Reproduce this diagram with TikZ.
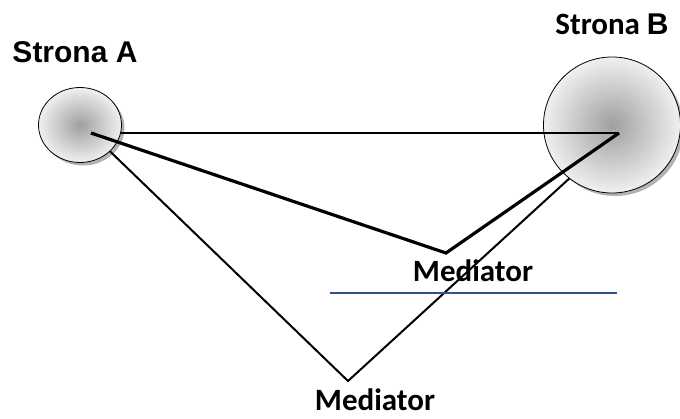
\documentclass[tikz,border=0pt]{standalone}
\usepackage{fontspec}
\setmainfont{Liberation Sans}
\newfontfamily\calib{Carlito}
\usetikzlibrary{shadows}
\tikzset{
  party/.style={ellipse, draw=black, line width=0.8pt, inner sep=0pt,
    shading=radial, inner color=gray!75, outer color=gray!12,
    drop shadow={shadow xshift=3pt, shadow yshift=-3pt, opacity=0.3, fill=black}},
  thinln/.style={line width=2pt, line join=miter},
  thickln/.style={line width=3.2pt, line join=miter},
  lbl/.style={inner sep=0pt, anchor=base, font=\calib\bfseries\fontsize{31}{31}\selectfont},
}
\usetikzlibrary{shapes.geometric}
\begin{document}
\begin{tikzpicture}[x=1pt,y=-1pt]
\useasboundingbox (0,0) rectangle (680,419);
\fill[white] (0,0) rectangle (680,419);
\coordinate (pa) at (91,133);
\coordinate (pb) at (619,133);
\coordinate (m1) at (446,253);
\coordinate (m2) at (348,381);
% thin lines via lower mediator (behind circles)
\draw[thinln] (pa) -- (m2) -- (pb);
% circle B
\node[party, minimum width=137pt, minimum height=136pt] (B) at (612,125) {};
% horizontal line (in front of B, behind A)
\draw[thinln] (pa) -- (pb);
% circle A
\node[party, minimum width=83pt, minimum height=75pt] (A) at (80,125) {};
% thick lines via upper mediator
\draw[thickln] (pa) -- (m1) -- (pb);
% blue line
\coordinate (bl1) at (330,293);
\coordinate (bl2) at (617,293);
\draw[line width=2pt, color={rgb,255:red,47;green,82;blue,143}] (bl1) -- (bl2);
% labels
\node[inner sep=0pt, anchor=base, font=\bfseries\fontsize{30}{30}\selectfont] (la) at (75,63) {Strona A};
\node[inner sep=0pt, anchor=base] (lb) at (612,35) {\calib\bfseries\fontsize{31}{31}\selectfont Strona \fontspec{Liberation Sans}\bfseries\fontsize{30}{30}\selectfont B};
\node[lbl] (med1) at (473,282) {Mediator};
\node[lbl] (med2) at (375,410) {Mediator};
\end{tikzpicture}
\end{document}
